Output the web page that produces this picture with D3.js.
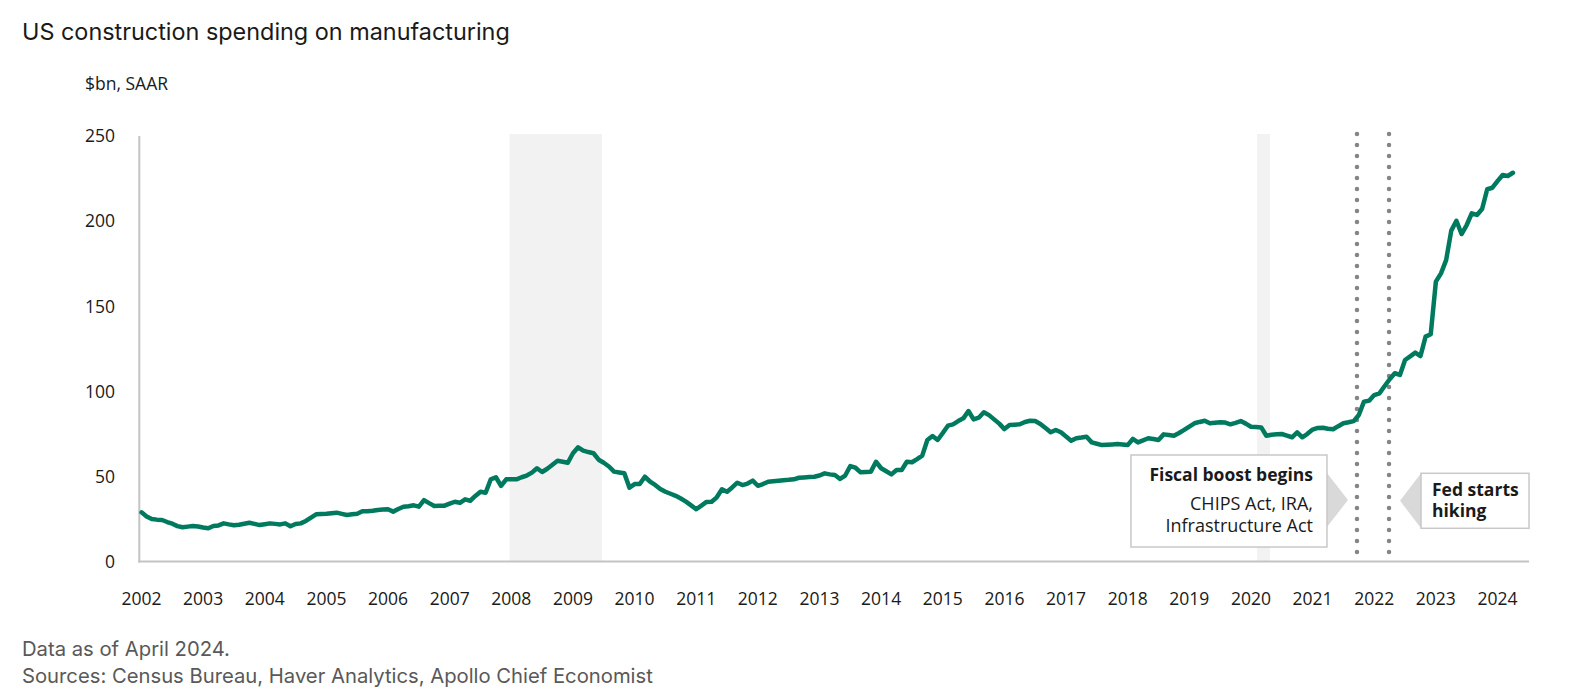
<!DOCTYPE html>
<html>
<head>
<meta charset="utf-8">
<script src="https://cdn.jsdelivr.net/npm/d3@7"></script>
<style>
  html, body { margin: 0; padding: 0; background: #fff; }
  svg { display: block; }
</style>
</head>
<body>
<svg id="chart" width="1569" height="697"></svg>
<script>
// ---------- DATA ----------
const startYear = 2002; // first monthly observation: Jan 2002
const spending2002 = [28.9, 26.5, 25.0, 24.6, 24.4, 23.2, 22.2, 20.8, 20.1, 20.5, 20.9, 20.6];
const spending2003 = [20.0, 19.5, 20.9, 21.2, 22.4, 21.8, 21.3, 21.6, 22.2, 22.8, 22.1, 21.4];
const spending2004 = [21.9, 22.4, 22.1, 21.8, 22.4, 20.7, 22.0, 22.4, 23.8, 25.8, 27.7, 27.9];
const spending2005 = [28.1, 28.4, 28.7, 28.0, 27.3, 27.7, 28.1, 29.5, 29.5, 29.8, 30.3, 30.5];
const spending2006 = [30.7, 29.3, 30.8, 32.2, 32.5, 33.0, 32.2, 36.1, 34.3, 32.6, 32.7, 32.8];
const spending2007 = [34.0, 35.1, 34.5, 36.5, 35.7, 38.5, 41.0, 40.4, 48.3, 49.5, 44.4, 48.3];
const spending2008 = [48.3, 48.3, 49.5, 50.5, 52.2, 54.8, 52.6, 54.5, 56.8, 59.2, 58.6, 58.0];
const spending2009 = [63.6, 67.1, 65.1, 64.3, 63.6, 59.8, 58.0, 55.8, 52.8, 52.3, 51.8, 43.4];
const spending2010 = [45.5, 45.5, 49.8, 47.0, 45.0, 42.6, 41.0, 39.8, 38.6, 37.0, 35.2, 33.0];
const spending2011 = [30.7, 32.8, 35.0, 35.1, 37.7, 42.4, 41.0, 43.5, 46.3, 44.9, 45.8, 47.5];
const spending2012 = [44.5, 45.5, 46.9, 47.2, 47.5, 47.8, 48.0, 48.3, 49.2, 49.4, 49.6, 49.8];
const spending2013 = [50.5, 51.8, 51.2, 50.8, 48.5, 50.5, 56.1, 55.1, 52.4, 52.6, 52.8, 58.6];
const spending2014 = [54.8, 53.0, 51.2, 53.8, 53.8, 58.6, 58.3, 60.2, 62.2, 71.4, 73.7, 71.4];
const spending2015 = [75.5, 79.8, 80.6, 82.5, 84.1, 88.4, 83.5, 84.5, 87.7, 86.0, 83.5, 81.0];
const spending2016 = [77.8, 80.2, 80.4, 80.6, 82.0, 82.7, 82.5, 80.8, 78.4, 75.9, 77.3, 75.9];
const spending2017 = [73.5, 71.0, 72.4, 72.8, 73.3, 70.0, 69.2, 68.4, 68.6, 68.8, 69.0, 68.8];
const spending2018 = [68.4, 72.0, 70.0, 71.2, 72.4, 72.0, 71.4, 74.7, 74.3, 73.9, 75.5, 77.3];
const spending2019 = [79.3, 81.2, 82.0, 82.7, 81.2, 81.5, 81.8, 81.6, 80.6, 81.5, 82.5, 81.0];
const spending2020 = [79.2, 79.0, 78.8, 73.9, 74.5, 74.7, 74.9, 74.0, 73.0, 75.9, 73.0, 75.0];
const spending2021 = [77.5, 78.5, 78.6, 78.0, 77.7, 79.5, 81.2, 81.8, 82.5, 86.1, 93.9, 94.5];
const spending2022 = [97.8, 98.8, 103.0, 107.1, 110.6, 109.6, 118.4, 120.5, 122.7, 120.7, 132.1, 133.5];
const spending2023 = [164.4, 169.3, 177.1, 194.4, 200.2, 192.4, 197.7, 204.6, 203.6, 207.1, 218.7, 219.6];
const spending2024 = [223.5, 227.1, 226.5, 228.4];

const spending = [].concat(
  spending2002, spending2003, spending2004, spending2005, spending2006, spending2007,
  spending2008, spending2009, spending2010, spending2011, spending2012, spending2013,
  spending2014, spending2015, spending2016, spending2017, spending2018, spending2019,
  spending2020, spending2021, spending2022, spending2023, spending2024
);

const yTicks = [0, 50, 100, 150, 200, 250];
const xTickYears = d3.range(2002, 2025);
const recessions = [[2007.97, 2009.47], [2020.10, 2020.31]];
const fiscalBoostDate = 2021.72;
const fedHikingDate = 2022.24;

const titleText = "US construction spending on manufacturing";
const unitText = "$bn, SAAR";
const noteText = "Data as of April 2024.";
const sourceText = "Sources: Census Bureau, Haver Analytics, Apollo Chief Economist";
const fiscalLines = ["Fiscal boost begins", "CHIPS Act, IRA,", "Infrastructure Act"];
const fedLines = ["Fed starts", "hiking"];

// ---------- CHART ----------
const svg = d3.select("#chart");
const x = d3.scaleLinear().domain([2002, 2024]).range([141.5, 1497.5]);
const y = d3.scaleLinear().domain([0, 250]).range([561.5, 136]);
const plotLeft = 139.3, plotRight = 1529, plotTop = 134;

const labelFont = "'Open Sans', 'Noto Sans', sans-serif";
const headFont = "Inter, 'Open Sans', sans-serif";
const ink = "#1a1a1a";

// recession shading
svg.append("g").selectAll("rect").data(recessions).join("rect")
  .attr("x", d => x(d[0]))
  .attr("width", d => x(d[1]) - x(d[0]))
  .attr("y", plotTop)
  .attr("height", y(0) - plotTop)
  .attr("fill", "#f2f2f2");

// axes lines
svg.append("line")
  .attr("x1", plotLeft).attr("x2", plotLeft)
  .attr("y1", y(250)).attr("y2", y(0) + 1)
  .attr("stroke", "#c4c4c4").attr("stroke-width", 2);
svg.append("line")
  .attr("x1", plotLeft - 1).attr("x2", plotRight)
  .attr("y1", y(0)).attr("y2", y(0))
  .attr("stroke", "#c4c4c4").attr("stroke-width", 2);

// y tick labels
svg.append("g").selectAll("text").data(yTicks).join("text")
  .attr("x", 115)
  .attr("y", d => y(d))
  .attr("dy", "0.36em")
  .attr("text-anchor", "end")
  .attr("font-family", labelFont)
  .attr("font-size", 17.5)
  .attr("fill", ink)
  .text(d => d);

// x tick labels
svg.append("g").selectAll("text").data(xTickYears).join("text")
  .attr("x", d => x(d))
  .attr("y", 605)
  .attr("text-anchor", "middle")
  .attr("font-family", labelFont)
  .attr("font-size", 17.5)
  .attr("fill", ink)
  .text(d => d);

// event dotted lines
svg.append("g").selectAll("line").data([fiscalBoostDate, fedHikingDate]).join("line")
  .attr("x1", d => x(d)).attr("x2", d => x(d))
  .attr("y1", plotTop).attr("y2", 553)
  .attr("stroke", "#858585")
  .attr("stroke-width", 4.5)
  .attr("stroke-linecap", "round")
  .attr("stroke-dasharray", "0,11");

// data line
const line = d3.line()
  .x((d, i) => x(startYear + i / 12))
  .y(d => y(d))
  .curve(d3.curveLinear);
svg.append("path")
  .datum(spending)
  .attr("d", line)
  .attr("fill", "none")
  .attr("stroke", "#007a5e")
  .attr("stroke-width", 4.5)
  .attr("stroke-linejoin", "round")
  .attr("stroke-linecap", "round");

// annotation: fiscal boost
const fx = x(fiscalBoostDate);
const fBox = { x: fx - 226, y: 455, w: 196, h: 92 };
svg.append("path")
  .attr("d", `M${fBox.x + fBox.w},473 L${fx - 9},500 L${fBox.x + fBox.w},527 Z`)
  .attr("fill", "#d9d9d9");
svg.append("rect")
  .attr("x", fBox.x).attr("y", fBox.y).attr("width", fBox.w).attr("height", fBox.h)
  .attr("fill", "#fff").attr("stroke", "#c8c8c8").attr("stroke-width", 1.5);
const fText = svg.append("text")
  .attr("text-anchor", "end")
  .attr("font-family", labelFont)
  .attr("font-size", 18)
  .attr("fill", ink);
fText.append("tspan").attr("x", fBox.x + fBox.w - 14).attr("y", 481)
  .attr("font-size", 17.5).attr("font-weight", 700).text(fiscalLines[0]);
fText.append("tspan").attr("x", fBox.x + fBox.w - 14).attr("y", 510).text(fiscalLines[1]);
fText.append("tspan").attr("x", fBox.x + fBox.w - 14).attr("y", 532).text(fiscalLines[2]);

// annotation: fed hiking
const hx = x(fedHikingDate);
const hBox = { x: hx + 32, y: 473.3, w: 108, h: 55 };
svg.append("path")
  .attr("d", `M${hBox.x},${hBox.y} L${hx + 11},500.7 L${hBox.x},${hBox.y + hBox.h} Z`)
  .attr("fill", "#d9d9d9");
svg.append("rect")
  .attr("x", hBox.x).attr("y", hBox.y).attr("width", hBox.w).attr("height", hBox.h)
  .attr("fill", "#fff").attr("stroke", "#c8c8c8").attr("stroke-width", 1.5);
const hText = svg.append("text")
  .attr("font-family", labelFont)
  .attr("font-size", 17.5)
  .attr("font-weight", 700)
  .attr("fill", ink);
hText.append("tspan").attr("x", hBox.x + 11).attr("y", 496).text(fedLines[0]);
hText.append("tspan").attr("x", hBox.x + 11).attr("y", 517).text(fedLines[1]);

// title, unit, footer
function fitText(sel, targetWidth) {
  const w = sel.node().getComputedTextLength();
  const fs = parseFloat(sel.attr("font-size"));
  if (w > 0) sel.attr("font-size", (fs * targetWidth / w).toFixed(2));
}
const title = svg.append("text")
  .attr("x", 22).attr("y", 39.5)
  .attr("font-family", headFont).attr("font-size", 22)
  .attr("fill", ink).text(titleText);
fitText(title, 488);

svg.append("text")
  .attr("x", 85).attr("y", 90)
  .attr("font-family", labelFont).attr("font-size", 17.5)
  .attr("fill", ink).text(unitText);

const note = svg.append("text")
  .attr("x", 22).attr("y", 656)
  .attr("font-family", headFont).attr("font-size", 18)
  .attr("fill", "#595959").text(noteText);
const src = svg.append("text")
  .attr("x", 22).attr("y", 683)
  .attr("font-family", headFont).attr("font-size", 18)
  .attr("fill", "#595959").text(sourceText);
const srcW = src.node().getComputedTextLength();
const scale = 631 / srcW;
src.attr("font-size", (18 * scale).toFixed(2));
note.attr("font-size", (18 * scale).toFixed(2));
</script>
</body>
</html>
